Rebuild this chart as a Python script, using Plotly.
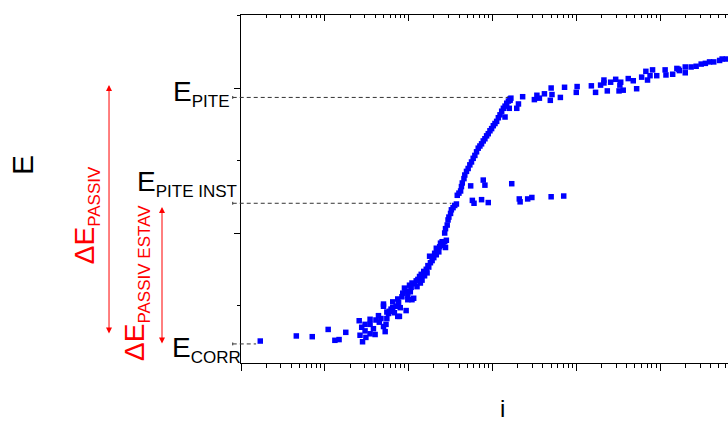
import plotly.graph_objects as go

# Polarisation curve: log10 of current density i (A/cm2) and potential E (mV)
log_i = [
    -8.77, -8.34, -8.15, -7.96, -7.88, -7.83, -7.75, -7.59, -7.58, -7.55,
    -7.56, -7.52, -7.51, -7.52, -7.46, -7.46, -7.46, -7.40, -7.42, -7.39,
    -7.36, -7.35, -7.33, -7.30, -7.30, -7.30, -7.28, -7.27, -7.26, -7.26,
    -7.24, -7.23, -7.21, -7.19, -7.19, -7.17, -7.15, -7.13, -7.13, -7.11,
    -7.12, -7.10, -7.08, -7.07, -7.05, -7.03, -7.03, -7.01, -7.01, -6.99,
    -6.97, -6.98, -6.96, -6.94, -6.96, -6.93, -6.91, -6.90, -6.89, -6.87,
    -6.85, -6.86, -6.84, -6.82, -6.81, -6.79, -6.78, -6.77, -6.76, -6.74,
    -6.75, -6.72, -6.70, -6.69, -6.67, -6.66, -6.64, -6.67, -6.63, -6.62,
    -6.60, -6.59, -6.57, -6.56, -6.55, -6.57, -6.56, -6.54, -6.53, -6.52,
    -6.50, -6.49, -6.47, -6.45, -6.43, -6.42, -6.40, -6.38, -6.37, -6.36,
    -6.34, -6.33, -6.31, -6.29, -6.27, -6.25, -6.23, -6.21, -6.19, -6.17,
    -6.15, -6.13, -6.11, -6.09, -6.07, -6.05, -6.03, -6.01, -5.99, -5.97,
    -5.95, -5.93, -5.91, -5.89, -5.87, -5.85, -5.83, -5.81, -5.79, -5.78,
    -6.26, -6.24, -6.22, -6.13, -6.11, -6.09, -6.05, -5.77, -5.68, -5.67,
    -5.58, -5.53, -5.30, -5.15,
    -5.85, -5.80, -5.79, -5.71, -5.69, -5.64, -5.50, -5.47, -5.44, -5.38,
    -5.31, -5.30, -5.29, -5.19, -5.14, -5.00, -4.99, -4.82, -4.77, -4.71,
    -4.67, -4.63, -4.59, -4.53, -4.49, -4.47, -4.44, -4.38, -4.32, -4.28,
    -4.22, -4.17, -4.15, -4.12, -4.09, -4.04, -3.94, -3.93, -3.85, -3.80,
    -3.77, -3.70, -3.63, -3.57, -3.51, -3.46, -3.41, -3.36, -3.29, -3.26,
    -3.21, -4.67, -4.48, -3.78, -3.70,
]
E_mV = [
    -149, -142, -143, -133, -148, -147, -137, -121, -141, -150,
    -130, -135, -144, -126, -119, -139, -126, -140, -132, -120,
    -114, -123, -118, -101, -98, -129, -136, -126, -118, -109,
    -111, -108, -105, -95, -103, -110, -101, -91, -115, -115,
    -96, -103, -88, -83, -76, -80, -107, -86, -92, -72,
    -75, -81, -92, -90, -69, -70, -66, -74, -64, -60,
    -57, -69, -65, -53, -59, -50, -55, -45, -47, -41,
    -32, -38, -34, -28, -30, -23, -26, -21, -19, -14,
    -12, -17, -12, -20, -10, 0, 6, 11, 18, 22,
    27, 32, 35, 38, 40, 52, 55, 58, 64, 69,
    75, 80, 85, 89, 94, 98, 103, 107, 112, 117,
    120, 123, 127, 130, 134, 137, 141, 144, 148, 151,
    154, 159, 163, 168, 172, 175, 179, 182, 185, 186,
    65, 45, 41, 46, 73, 66, 42, 68, 47, 43,
    47, 49, 50, 51,
    160, 172, 183, 172, 178, 188, 184, 190, 186, 192,
    183, 200, 191, 187, 201, 194, 202, 203, 194, 204,
    211, 196, 208, 212, 196, 208, 197, 213, 210, 199,
    215, 223, 211, 217, 225, 217, 225, 218, 219, 227,
    224, 221, 229, 230, 233, 234, 236, 236, 238, 240,
    240, 207, 204, 226, 229,
]
current = [10 ** v for v in log_i]

# Characteristic potentials (mV) and the current where each guide line stops
E_PITE, log_i_pite = 187, -5.81
E_PITE_INST, log_i_pite_inst = 41, -6.49
E_CORR, log_i_corr = -153, -8.82

X_RANGE = [-9.0, -3.19]      # log10 decades
Y_RANGE = [-179.3, 300.7]    # mV

FONT = "Arial, Liberation Sans, sans-serif"
BLUE = "#0000FF"
RED = "#FF0000"


def x_paper(log_value):
    return (log_value - X_RANGE[0]) / (X_RANGE[1] - X_RANGE[0])


fig = go.Figure()
fig.add_trace(go.Scatter(
    x=current, y=E_mV, mode="markers",
    marker=dict(symbol="square", size=5.5, color=BLUE, line=dict(width=0)),
    showlegend=False, hoverinfo="skip",
))
# same points on the top axis, fully transparent, so the mirrored axis is laid out
fig.add_trace(go.Scatter(
    x=current, y=E_mV, mode="markers", xaxis="x2",
    marker=dict(size=1, opacity=0), showlegend=False, hoverinfo="skip",
))

# dashed guides from the potential axis to the curve
for level, log_end in [(E_PITE, log_i_pite), (E_PITE_INST, log_i_pite_inst), (E_CORR, log_i_corr)]:
    fig.add_shape(type="line", xref="paper", yref="y",
                  x0=-0.017, x1=x_paper(log_end), y0=level, y1=level,
                  line=dict(color="#333333", width=1, dash="4px,3px"))
    fig.add_shape(type="line", xref="paper", yref="y",
                  x0=-0.017, x1=-0.017, y0=level - 2, y1=level + 2,
                  line=dict(color="#333333", width=1))

sub = '<sub><span style="font-size:17px">{}</span></sub>'

annotations = [
    dict(text="E" + sub.format("PITE"), x=-0.1437, y=0.773, xanchor="left", yanchor="middle",
         font=dict(size=28, color="black", family=FONT)),
    dict(text="E" + sub.format("PITE INST"), x=-0.2176, y=0.517, xanchor="left", yanchor="middle",
         font=dict(size=28, color="black", family=FONT)),
    dict(text="E" + sub.format("CORR"), x=-0.1457, y=0.0374, xanchor="left", yanchor="middle",
         font=dict(size=28, color="black", family=FONT)),
    dict(text="\u0394E" + sub.format("PASSIV"), x=-0.318, y=0.425, textangle=-90,
         xanchor="center", yanchor="middle", font=dict(size=28, color=RED, family=FONT)),
    dict(text="\u0394E" + sub.format("PASSIV ESTAV"), x=-0.2136, y=0.230, textangle=-90,
         xanchor="center", yanchor="middle", font=dict(size=28, color=RED, family=FONT)),
    dict(text="E", x=-0.4476, y=0.569, textangle=-90, xanchor="center", yanchor="middle",
         font=dict(size=30, color="black", family=FONT)),
    dict(text="i", x=0.536, y=-0.13, xanchor="center", yanchor="middle",
         font=dict(size=24, color="black", family=FONT)),
]
for a in annotations:
    a.update(xref="paper", yref="paper", showarrow=False)

# double-headed red arrows spanning the passive ranges
arrows = [
    dict(x=-0.271, y=0.799, ay=250),
    dict(x=-0.1622, y=0.448, ay=138),
]
for a in arrows:
    a.update(xref="paper", yref="paper", ax=0, axref="pixel", ayref="pixel", text="",
             showarrow=True, arrowside="end+start", arrowhead=2, arrowsize=1.2,
             arrowwidth=1, arrowcolor=RED, standoff=0, startstandoff=0)
    annotations.append(a)

fig.update_layout(
    width=728, height=421,
    margin=dict(l=241, r=0, t=15, b=58),
    paper_bgcolor="white", plot_bgcolor="white",
    font=dict(family=FONT, color="black"),
    annotations=annotations,
    xaxis=dict(
        type="log", range=X_RANGE, showgrid=False, zeroline=False,
        showline=True, linecolor="black", linewidth=1.3,
        ticks="outside", ticklen=7, tickwidth=1, tickcolor="black", dtick=1,
        showticklabels=False,
        minor=dict(ticks="outside", ticklen=4, tickwidth=1, tickcolor="black", dtick="D1", showgrid=False),
    ),
    xaxis2=dict(
        type="log", range=X_RANGE, overlaying="x", side="top", anchor="y",
        showgrid=False, zeroline=False,
        showline=True, linecolor="black", linewidth=1.3,
        ticks="inside", ticklen=6, tickwidth=1, tickcolor="black", dtick=1,
        showticklabels=False,
        minor=dict(ticks="inside", ticklen=3, tickwidth=1, tickcolor="black", dtick="D1", showgrid=False),
    ),
    yaxis=dict(
        range=Y_RANGE, showgrid=False, zeroline=False,
        showline=True, linecolor="black", linewidth=1.3,
        ticks="outside", ticklen=6, tickwidth=1, tickcolor="black", tick0=0, dtick=200,
        showticklabels=False,
        minor=dict(ticks="outside", ticklen=3, tickwidth=1, tickcolor="black", tick0=0, dtick=100, showgrid=False),
    ),
)

fig.write_html("out.html")
